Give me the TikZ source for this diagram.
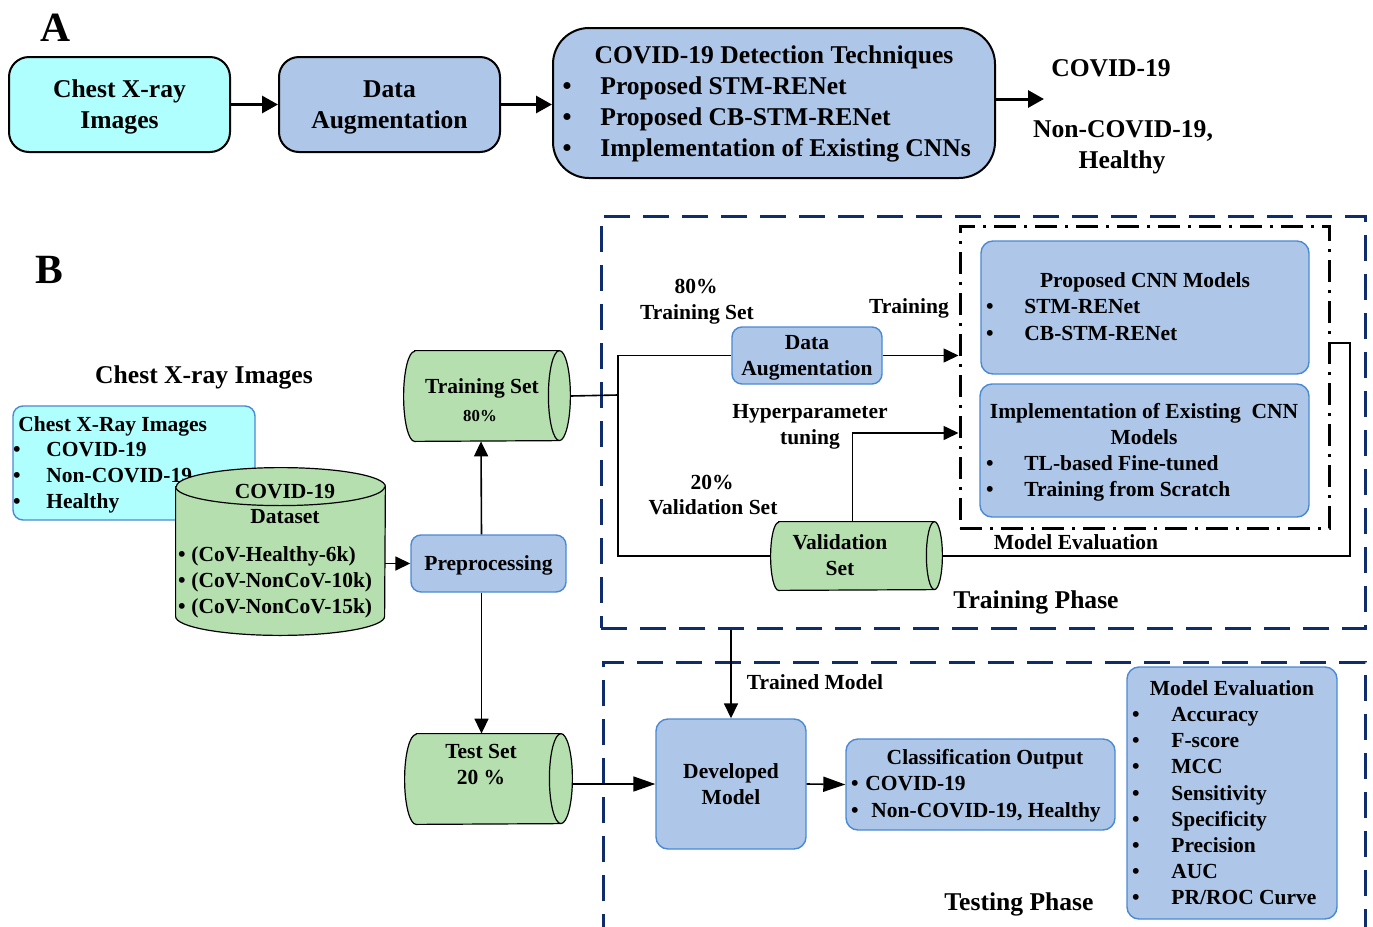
\documentclass[tikz,border=0pt]{standalone}
\usepackage{fontspec}
\setmainfont{Liberation Serif}
\usetikzlibrary{shapes.geometric, arrows.meta, positioning, calc}
\definecolor{xraycyan}{HTML}{AFFFFF}
\definecolor{stepblue}{HTML}{AEC6E8}
\definecolor{edgeblue}{HTML}{4A8AD4}
\definecolor{datagreen}{HTML}{B6DFAF}
\definecolor{phasenavy}{HTML}{0F2C6C}
\newcommand{\fnorm}{\fontsize{10.75pt}{13pt}\selectfont\bfseries}
\newcommand{\fbig}{\fontsize{12.8pt}{15.5pt}\selectfont\bfseries}
\newcommand{\fsmall}{\fontsize{8.4pt}{10pt}\selectfont\bfseries}
\newcommand{\fpanel}{\fontsize{20.8pt}{24pt}\selectfont\bfseries}
% horizontal store: node name, cap x radius, half height
\newcommand{\hstore}[3]{%
  \draw[storeline] ([xshift=#2]#1.north west) -- ([xshift=-#2]#1.north east)
    arc[start angle=90, end angle=-90, x radius=#2, y radius=#3]
    -- ([xshift=#2]#1.south west)
    arc[start angle=270, end angle=90, x radius=#2, y radius=#3] -- cycle;
  \draw[storeline, fill=none] ([xshift=-#2]#1.north east)
    arc[start angle=90, end angle=270, x radius=#2, y radius=#3];}
% vertical store: node name, half width, cap y radius
\newcommand{\vstore}[3]{%
  \draw[storeline] ([yshift=-#3]#1.north west) -- ([yshift=#3]#1.south west)
    arc[start angle=180, end angle=360, x radius=#2, y radius=#3]
    -- ([yshift=-#3]#1.north east)
    arc[start angle=0, end angle=180, x radius=#2, y radius=#3] -- cycle;
  \draw[storeline, fill=none] ([yshift=-#3]#1.north west)
    arc[start angle=180, end angle=360, x radius=#2, y radius=#3];}

\begin{document}
\begin{tikzpicture}[x=0.5pt, y=-0.5pt,
    txt/.style={inner sep=0pt, text height=0.66em, text depth=0pt, font=\fnorm},
    bigtxt/.style={txt, font=\fbig},
    panel/.style={inner sep=0pt, font=\fpanel},
    stageA/.style={rectangle, rounded corners=10pt, draw=black, line width=1pt, fill=stepblue, align=center, font=\fbig, inner sep=0pt, text depth=0pt},
    stageB/.style={rectangle, rounded corners=5pt, draw=edgeblue, line width=0.7pt, fill=stepblue, align=center, font=\fnorm, inner sep=0pt, text depth=0pt},
    store/.style={rectangle, inner sep=0pt},
    storeline/.style={draw=black, line width=0.6pt, fill=datagreen},
    phase/.style={rectangle, draw=phasenavy, line width=1.5pt, dash pattern=on 13pt off 6.5pt},
    arrA/.style={-{Triangle[length=8pt, width=8.5pt]}, line width=1.5pt},
    arrB/.style={-{Triangle[length=7.5pt, width=7pt]}, line width=0.8pt},
    link/.style={line width=0.8pt}
]
\useasboundingbox (0,0) rectangle (1373,927);
\fill[white] (0,0) rectangle (1373,927);

% ---------- A ----------
\node[panel] (lblA) at (56,28) {A};
\node[stageA, fill=xraycyan, minimum width=110.5pt, minimum height=47.5pt] (xray) at (119.5,104.5) {Chest X-ray\\Images};
\node[stageA, minimum width=110.5pt, minimum height=47.5pt] (augA) at (389.5,104.5) {Data\\Augmentation};
\node[stageA, rounded corners=18pt, minimum width=221pt, minimum height=75pt] (detect) at (774,103) {};
\node[bigtxt] at (774,57) {COVID-19 Detection Techniques};
\foreach \entry [count=\i] in {Proposed STM-RENet, Proposed CB-STM-RENet, Implementation of Existing CNNs} {
  \node[bigtxt] at (567,57+31*\i) {•};
  \node[bigtxt, anchor=west] at (600,57+31*\i) {\entry};
}
\coordinate (outA) at (1044,99);
\node[bigtxt] at (1111,70) {COVID-19};
\node[bigtxt] at (1123,131) {Non-COVID-19,};
\node[bigtxt] at (1122,162) {Healthy};

\draw[arrA] (xray) -- (augA);
\draw[arrA] (augA.east) -- (augA.east -| detect.west);
\draw[arrA] (detect.east |- outA) -- (outA);

% ---------- B ----------
\node[panel] (lblB) at (49,270) {B};
\node[bigtxt] at (204,377) {Chest X-ray Images};

% input images and dataset
\node[stageB, fill=xraycyan, minimum width=121pt, minimum height=57pt] (images) at (134,463) {};
\node[txt, anchor=west] at (18,425) {Chest X-Ray Images};
\foreach \entry [count=\i] in {COVID-19, Non-COVID-19, Healthy} {
  \node[txt] at (17,424+26*\i) {•};
  \node[txt, anchor=west] at (46,424+26*\i) {\entry};
}
\node[store, minimum width=104.5pt, minimum height=83.5pt] (data) at (280.5,551.5) {};
\vstore{data}{52.25pt}{9.5pt}
\node[txt] at (285,492) {COVID-19};
\node[txt] at (285,517) {Dataset};
\foreach \entry [count=\i] in {(CoV-Healthy-6k), (CoV-NonCoV-10k), (CoV-NonCoV-15k)} {
  \node[txt] at (182,529+26*\i) {•};
  \node[txt, anchor=west] at (191,529+26*\i) {\entry};
}

\node[stageB, minimum width=77.5pt, minimum height=28.5pt] (prep) at (488.5,563.5) {Preprocessing};
\node[store, minimum width=83pt, minimum height=45pt] (train) at (487,396) {};
\hstore{train}{5.5pt}{22.5pt}
\node[txt] at (482,387) {Training Set};
\node[txt, font=\fsmall] at (480,415) {80\%};
\node[store, minimum width=83.5pt, minimum height=45pt] (test) at (488.5,779) {};
\hstore{test}{5.75pt}{22.5pt}
\node[txt] at (481,752) {Test Set};
\node[txt] at (481,778) {20 \%};

\draw[arrB] (prep.west -| data.east) -- (prep.west);
\draw[arrB] ([xshift=-3.5pt]prep.north) -- ([xshift=-3pt]train.south);
\draw[arrB] ([xshift=-3.5pt]prep.south) -- ([xshift=-3.5pt]test.north);

% training phase
\node[phase, minimum width=382pt, minimum height=206pt] (tphase) at (983,422) {};
\node[rectangle, draw=black, line width=1.5pt, dash pattern=on 11pt off 4pt on 1.5pt off 4pt, minimum width=184.5pt, minimum height=151pt] (models) at (1144.5,377) {};
\node[stageB, rounded corners=6pt, minimum width=164pt, minimum height=66.5pt] (prop) at (1145,307.5) {};
\node[txt] at (1145,281) {Proposed CNN Models};
\foreach \entry [count=\i] in {STM-RENet, CB-STM-RENet} {
  \node[txt] at (990,280+27*\i) {•};
  \node[txt, anchor=west] at (1024,280+27*\i) {\entry};
}
\node[stageB, rounded corners=6pt, minimum width=164.5pt, minimum height=66.5pt] (impl) at (1144.5,450.5) {};
\node[txt] at (1144,412) {Implementation of Existing\ \ CNN};
\node[txt] at (1144,438) {Models};
\foreach \entry [count=\i] in {TL-based Fine-tuned, Training from Scratch} {
  \node[txt] at (990,438+26*\i) {•};
  \node[txt, anchor=west] at (1024,438+26*\i) {\entry};
}
\node[stageB, minimum width=75pt, minimum height=28.5pt] (augB) at (807,355.5) {Data\\Augmentation};
\node[store, minimum width=85.5pt, minimum height=34pt] (valid) at (856.5,556) {};
\hstore{valid}{4pt}{17pt}
\node[txt] at (840,543) {Validation};
\node[txt] at (840,569) {Set};

\coordinate (split) at (618,395);
\coordinate (evalturn) at (1350,556);
\draw[link] (train.east) -- (split);
\draw[link] (split) |- (augB.west);
\draw[link] (split) |- (valid.west);
\draw[arrB] (augB.east) -- (augB.east -| models.west);
\draw[arrB] ([xshift=-2pt]valid.north) |- (models.west |- 0,433);
\draw[link] (valid.east) -- (evalturn) |- (models.east |- 0,343);

\node[txt] at (696,287) {80\%};
\node[txt] at (697,313) {Training Set};
\node[txt] at (909,307) {Training};
\node[txt] at (810,412) {Hyperparameter};
\node[txt] at (810,438) {tuning};
\node[txt] at (712,483) {20\%};
\node[txt] at (713,508) {Validation Set};
\node[txt] at (1076,543) {Model Evaluation};
\node[bigtxt] at (1036,602) {Training Phase};

% testing phase
\draw[phase] (603,940) -- (603,662) -- (1365,662) -- (1365,940);
\node[stageB, rounded corners=6pt, minimum width=75pt, minimum height=65pt] (dev) at (731,784) {Developed\\Model};
\node[stageB, rounded corners=6pt, minimum width=134.5pt, minimum height=45.5pt] (cls) at (980.5,784.5) {};
\node[txt] at (985,758) {Classification Output};
\node[txt] at (855,784) {•};
\node[txt, anchor=west] at (865,784) {COVID-19};
\node[txt] at (855,811) {•};
\node[txt, anchor=west] at (871,811) {Non-COVID-19, Healthy};
\node[stageB, rounded corners=6pt, minimum width=105pt, minimum height=126pt] (meval) at (1232,793) {};
\node[txt] at (1232,689) {Model Evaluation};
\foreach \entry [count=\i] in {Accuracy, F-score, MCC, Sensitivity, Specificity, Precision, AUC, PR/ROC Curve} {
  \node[txt] at (1136,689+26.1*\i) {•};
  \node[txt, anchor=west] at (1171,689+26.1*\i) {\entry};
}
\node[txt] at (815,683) {Trained Model};
\node[bigtxt] at (1019,904) {Testing Phase};

\draw[arrB] (tphase.south -| dev.north) -- (dev.north);
\draw[arrB, -{Triangle[length=11pt, width=7.5pt]}] (test.east |- dev.west) -- (dev.west);
\draw[arrB, -{Triangle[length=11pt, width=7.5pt]}] (dev.east) -- (cls.west);
\end{tikzpicture}
\end{document}
